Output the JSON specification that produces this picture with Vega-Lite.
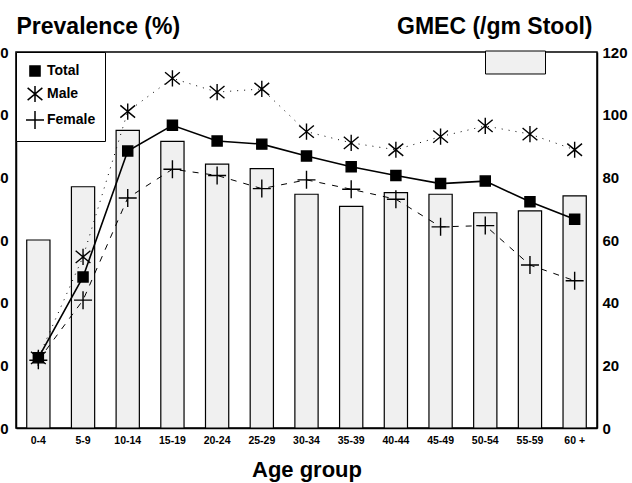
{
  "$schema": "https://vega.github.io/schema/vega-lite/v6.json",
  "width": 581,
  "height": 376,
  "autosize": {"type": "none"},
  "padding": {"left": 16, "top": 52, "right": 35, "bottom": 55},
  "background": "white",
  "datasets": {
    "bars": [
      {"age": "0-4", "gmec": 60},
      {"age": "5-9", "gmec": 77},
      {"age": "10-14", "gmec": 95},
      {"age": "15-19", "gmec": 91.5},
      {"age": "20-24", "gmec": 84.2},
      {"age": "25-29", "gmec": 82.8},
      {"age": "30-34", "gmec": 74.6},
      {"age": "35-39", "gmec": 70.7},
      {"age": "40-44", "gmec": 75.1},
      {"age": "45-49", "gmec": 74.6},
      {"age": "50-54", "gmec": 68.7},
      {"age": "55-59", "gmec": 69.3},
      {"age": "60 +", "gmec": 74.1}
    ],
    "lines": [
      {"age": "0-4", "series": "Total", "prev": 11.2},
      {"age": "5-9", "series": "Total", "prev": 24.1},
      {"age": "10-14", "series": "Total", "prev": 44.2},
      {"age": "15-19", "series": "Total", "prev": 48.3},
      {"age": "20-24", "series": "Total", "prev": 45.8},
      {"age": "25-29", "series": "Total", "prev": 45.3},
      {"age": "30-34", "series": "Total", "prev": 43.4},
      {"age": "35-39", "series": "Total", "prev": 41.7},
      {"age": "40-44", "series": "Total", "prev": 40.3},
      {"age": "45-49", "series": "Total", "prev": 39.0},
      {"age": "50-54", "series": "Total", "prev": 39.4},
      {"age": "55-59", "series": "Total", "prev": 36.1},
      {"age": "60 +", "series": "Total", "prev": 33.3},
      {"age": "0-4", "series": "Male", "prev": 11.2},
      {"age": "5-9", "series": "Male", "prev": 27.3},
      {"age": "10-14", "series": "Male", "prev": 50.5},
      {"age": "15-19", "series": "Male", "prev": 55.8},
      {"age": "20-24", "series": "Male", "prev": 53.6},
      {"age": "25-29", "series": "Male", "prev": 54.1},
      {"age": "30-34", "series": "Male", "prev": 47.3},
      {"age": "35-39", "series": "Male", "prev": 45.5},
      {"age": "40-44", "series": "Male", "prev": 44.4},
      {"age": "45-49", "series": "Male", "prev": 46.5},
      {"age": "50-54", "series": "Male", "prev": 48.2},
      {"age": "55-59", "series": "Male", "prev": 46.9},
      {"age": "60 +", "series": "Male", "prev": 44.4},
      {"age": "0-4", "series": "Female", "prev": 10.8},
      {"age": "5-9", "series": "Female", "prev": 20.4},
      {"age": "10-14", "series": "Female", "prev": 36.7},
      {"age": "15-19", "series": "Female", "prev": 41.3},
      {"age": "20-24", "series": "Female", "prev": 40.3},
      {"age": "25-29", "series": "Female", "prev": 38.2},
      {"age": "30-34", "series": "Female", "prev": 39.6},
      {"age": "35-39", "series": "Female", "prev": 38.1},
      {"age": "40-44", "series": "Female", "prev": 36.5},
      {"age": "45-49", "series": "Female", "prev": 32.1},
      {"age": "50-54", "series": "Female", "prev": 32.3},
      {"age": "55-59", "series": "Female", "prev": 26.0},
      {"age": "60 +", "series": "Female", "prev": 23.5}
    ]
  },
  "encoding": {
    "x": {
      "field": "age",
      "type": "nominal",
      "sort": ["0-4","5-9","10-14","15-19","20-24","25-29","30-34","35-39","40-44","45-49","50-54","55-59","60 +"],
      "scale": {"paddingInner": 0.48, "paddingOuter": 0.24},
      "axis": {
        "title": "Age group",
        "labelAngle": 0,
        "labelFontSize": 10.5,
        "labelFontWeight": "bold",
        "labelPadding": 7,
        "titleFontSize": 22,
        "titleFontWeight": "bold",
        "titlePadding": 14,
        "domainWidth": 1.5
      }
    }
  },
  "layer": [
    {
      "data": {"name": "bars"},
      "mark": {"type": "bar", "stroke": "black", "strokeWidth": 1.2},
      "encoding": {
        "y": {
          "field": "gmec",
          "type": "quantitative",
          "scale": {"domain": [0, 120]},
          "axis": {
            "orient": "right",
            "values": [0, 20, 40, 60, 80, 100, 120],
            "title": "GMEC (/gm Stool)",
            "titleAngle": 0,
            "titleAlign": "right",
            "titleBaseline": "alphabetic",
            "titleX": -5,
            "titleY": -19,
            "titleFontSize": 23,
            "titleFontWeight": "bold",
            "labelFontSize": 15,
            "labelFontWeight": "bold",
            "labelPadding": 5,
            "domainWidth": 1.5
          }
        },
        "fill": {
          "datum": "GMEC",
          "scale": {"range": ["#f0f0f0"]},
          "legend": {
            "orient": "none",
            "legendX": 469,
            "legendY": -20,
            "title": null,
            "padding": 0,
            "labelExpr": "''",
            "labelFontSize": 1,
            "symbolType": "M-1,-0.383H1V0.383H-1Z",
            "symbolSize": 3600,
            "symbolStrokeColor": "black",
            "symbolStrokeWidth": 1,
            "symbolFillColor": "#f0f0f0"
          }
        }
      }
    },
    {
      "data": {"name": "lines"},
      "layer": [
        {
          "transform": [{"filter": "datum.series === 'Total'"}],
          "mark": {"type": "line", "color": "black", "strokeWidth": 1.6},
          "encoding": {"y": {"field": "prev", "type": "quantitative"}}
        },
        {
          "transform": [{"filter": "datum.series === 'Male'"}],
          "mark": {"type": "line", "color": "black", "strokeWidth": 1, "strokeDash": [1, 6]},
          "encoding": {"y": {"field": "prev", "type": "quantitative"}}
        },
        {
          "transform": [{"filter": "datum.series === 'Female'"}],
          "mark": {"type": "line", "color": "black", "strokeWidth": 1, "strokeDash": [6, 7]},
          "encoding": {"y": {"field": "prev", "type": "quantitative"}}
        },
        {
          "mark": {"type": "point", "filled": true, "color": "black", "stroke": "black", "strokeWidth": 1.4, "opacity": 1, "size": 324},
          "encoding": {
            "y": {"field": "prev", "type": "quantitative"},
            "shape": {
              "field": "series",
              "type": "nominal",
              "scale": {
                "domain": ["Total", "Male", "Female"],
                "range": ["M-0.56,-0.56H0.56V0.56H-0.56Z", "M0,-0.9V0.9M-0.82,-0.68L0.82,0.68M-0.82,0.68L0.82,-0.68", "M-1,0H1M0,-1V1"]
              },
              "legend": {
                "orient": "none",
                "legendX": 0,
                "legendY": 0,
                "title": null,
                "strokeColor": "black",
                "fillColor": "white",
                "padding": 9,
                "rowPadding": 2,
                "labelFontSize": 14,
                "labelFontWeight": "bold",
                "labelOffset": 2,
                "symbolSize": 324,
                "labelExpr": "datum.label + ' '",
                "encode": {
                  "symbols": {
                    "update": {
                      "stroke": {"value": "black"},
                      "strokeWidth": {"value": 1.4},
                      "fill": {"value": "black"},
                      "opacity": {"value": 1}
                    }
                  }
                }
              }
            }
          }
        }
      ],
      "encoding": {
        "y": {
          "field": "prev",
          "type": "quantitative",
          "scale": {"domain": [0, 60]},
          "axis": {
            "orient": "left",
            "values": [0, 10, 20, 30, 40, 50, 60],
            "title": "Prevalence (%)",
            "titleAngle": 0,
            "titleAlign": "left",
            "titleBaseline": "alphabetic",
            "titleX": 0,
            "titleY": -19,
            "titleFontSize": 23,
            "titleFontWeight": "bold",
            "labelFontSize": 15,
            "labelFontWeight": "bold",
            "labelPadding": 8,
            "domainWidth": 1.5
          }
        }
      }
    }
  ],
  "resolve": {"scale": {"y": "independent"}},
  "config": {
    "font": "Liberation Sans",
    "view": {"stroke": "black", "strokeWidth": 1.5},
    "axis": {"grid": false, "ticks": false, "domainColor": "black", "labelColor": "black", "titleColor": "black"}
  }
}
